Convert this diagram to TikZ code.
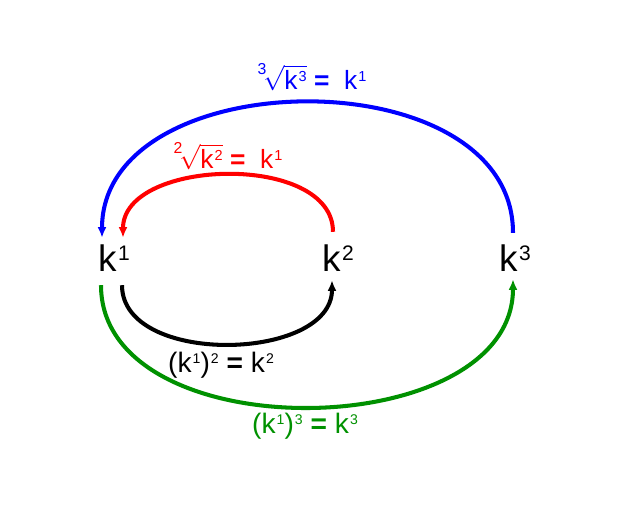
\documentclass[tikz,border=0pt]{standalone}
\usepackage{amsmath}
\usepackage{fontspec}
\setmainfont{Liberation Sans}
\usetikzlibrary{arrows.meta,calc}
\definecolor{arcgreen}{RGB}{0,145,0}
% small raised exponent, top level with the k
\newcommand\sups[2][0.55]{\kern0.04em\raisebox{0.3em}{\scalebox{#1}{#2}}}
% root with a large index
\newcommand\kroot[2]{\raisebox{0.55em}{\scalebox{0.6}{#1}}\kern-0.12em$\sqrt{\text{#2}}$}
\tikzset{
  knode/.style = {font=\fontsize{21}{25}\selectfont, inner sep=0pt},
  lbl/.style = {font=\fontsize{16}{19}\selectfont, inner sep=0pt, anchor=base},
  rootlbl/.style = {font=\fontsize{15}{18}\selectfont, inner sep=0pt, anchor=base},
  arc/.style = {line width=2.3pt, -{Latex[length=6pt,width=5pt]}}
}

\begin{document}
\begin{tikzpicture}[x=0.02cm, y=-0.02cm]
        \useasboundingbox (0,0) rectangle (636,521);
        \node (k1)[knode] at (114,258.5) {k\sups[0.57]{1}};
        \node (k2)[knode] at (338,258.5) {k\sups[0.57]{2}};
        \node (k3)[knode] at (515,258.5) {k\sups[0.57]{3}};
        \node (cuberoot)[rootlbl, text=blue] at (312,89)
            {\kroot{3}{k\sups{3}} \textbf{=}\ \ k\sups{1}};
        \node (sqroot)[rootlbl, text=red] at (228,168)
            {\kroot{2}{k\sups{2}} \textbf{=}\ \ k\sups{1}};
        \node (square)[lbl] at (221,372) {(k\sups[0.5]{1})\sups[0.5]{2} \textbf{=} k\sups[0.5]{2}};
        \node (cube)[lbl, text=arcgreen] at (305,433) {(k\sups[0.5]{1})\sups[0.5]{3} \textbf{=} k\sups[0.5]{3}};
        \draw[arc, blue] ($(k3.north)+(-2,-12)$) to[out=90, in=90, looseness=1.10] ($(k1.north)+(-12,-7)$);
        \draw[arc, red] ($(k2.north)+(-5,-13)$) to[out=90, in=90, looseness=0.97] ($(k1.north)+(9,-7)$);
        \draw[arc, black] ($(k1.south)+(8,13)$) to[out=-90, in=-90, looseness=0.99] ($(k2.south)+(-6,8)$);
        \draw[arc, arcgreen] ($(k1.south)+(-13,13)$) to[out=-90, in=-90, looseness=1.03] ($(k3.south)+(-2,7)$);
    \end{tikzpicture}
\end{document}
